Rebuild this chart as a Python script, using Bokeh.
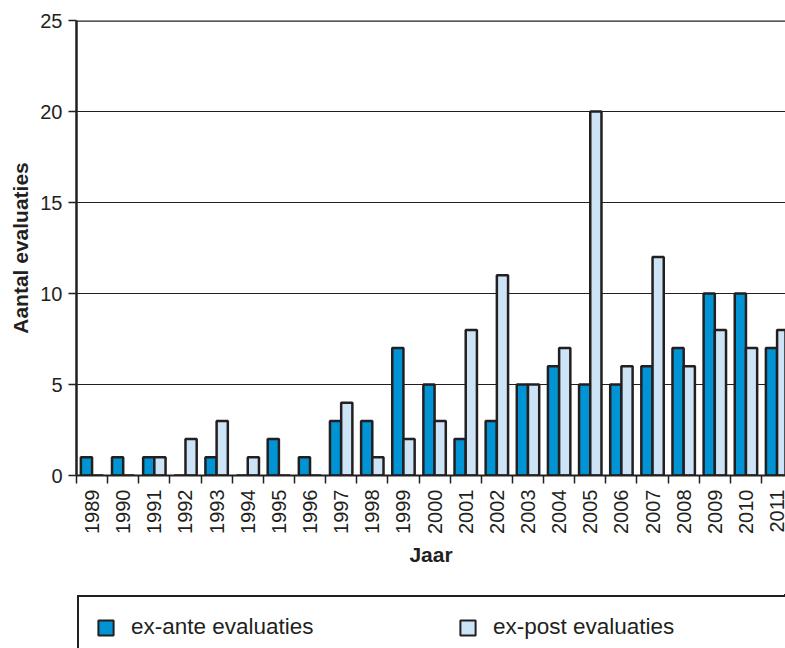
from bokeh.plotting import figure
from bokeh.layouts import column
from bokeh.models import (ColumnDataSource, Range1d, FixedTicker, Legend, LegendItem, Span)
from bokeh.transform import dodge
from bokeh.embed import file_html
from bokeh.resources import INLINE

years = list(range(1989, 2012))
ex_ante = [1, 1, 1, 0, 1, 0, 2, 1, 3, 3, 7, 5, 2, 3, 5, 6, 5, 5, 6, 7, 10, 10, 7]
ex_post = [0, 0, 1, 2, 3, 1, 0, 0, 4, 1, 2, 3, 8, 11, 5, 7, 20, 6, 12, 6, 8, 7, 8]
y_ticks = [0, 5, 10, 15, 20, 25]
series_names = ["ex-ante evaluaties", "ex-post evaluaties"]

FONT = "Liberation Sans"
INK = "#231f20"
BLUE = "#0094d4"
LIGHT = "#cde4f6"

src = ColumnDataSource(dict(year=years, ante=ex_ante, post=ex_post))

p = figure(frame_width=709, frame_height=455, output_backend="svg", toolbar_location=None,
           x_range=Range1d(years[0] - 0.5, years[-1] + 0.27), y_range=Range1d(0, 25),
           min_border_left=76, min_border_top=20, min_border_right=0, min_border_bottom=119)
p.outline_line_color = None
p.background_fill_color = "white"
p.border_fill_color = "white"

bw = 0.36
r1 = p.vbar(x=dodge("year", -bw / 2, range=p.x_range), top="ante", width=bw, source=src,
            fill_color=BLUE, line_color=INK, line_width=2.5)
r2 = p.vbar(x=dodge("year", bw / 2, range=p.x_range), top="post", width=bw, source=src,
            fill_color=LIGHT, line_color=INK, line_width=2.5)

p.add_layout(Span(location=y_ticks[-1], dimension="width", line_color=INK, line_width=2.5))

# x axis
boundaries = [y - 0.5 for y in years]
p.xaxis.ticker = FixedTicker(ticks=years, minor_ticks=boundaries)
p.xaxis.major_label_overrides = {y: str(y) for y in years}
p.xaxis.major_label_orientation = 3.14159265 / 2
p.xaxis.major_tick_out = 0
p.xaxis.major_tick_in = 0
p.xaxis.minor_tick_out = 8
p.xaxis.minor_tick_in = 0
p.xaxis.minor_tick_line_color = INK
p.xaxis.minor_tick_line_width = 1.5
p.xaxis.axis_line_color = INK
p.xaxis.axis_line_width = 2
p.xaxis.axis_label = "Jaar"
p.xaxis.major_label_standoff = 6

# y axis
p.yaxis.ticker = FixedTicker(ticks=y_ticks)
p.yaxis.major_tick_out = 8
p.yaxis.major_tick_in = 0
p.yaxis.minor_tick_line_color = None
p.yaxis.major_tick_line_color = INK
p.yaxis.major_tick_line_width = 1.5
p.yaxis.axis_line_color = INK
p.yaxis.axis_line_width = 2.5
p.yaxis.axis_label = "Aantal evaluaties"
p.yaxis.major_label_standoff = 6

for ax in (p.xaxis[0], p.yaxis[0]):
    ax.major_label_text_font = FONT
    ax.major_label_text_font_size = "20px"
    ax.major_label_text_color = INK
    ax.axis_label_text_font = FONT
    ax.axis_label_text_font_size = "21px"
    ax.axis_label_text_font_style = "bold"
    ax.axis_label_text_color = INK
p.xaxis.axis_label_standoff = 6
p.yaxis.axis_label_standoff = 5

p.xgrid.grid_line_color = None
p.ygrid.ticker = FixedTicker(ticks=y_ticks)
p.ygrid.grid_line_color = INK
p.ygrid.grid_line_width = 1

# legend strip (a second small figure below the chart); its proxy bars lie outside its range
lg = figure(frame_width=709, frame_height=54, output_backend="svg", toolbar_location=None,
            x_range=Range1d(0, 1), y_range=Range1d(0, 1), x_axis_type=None, y_axis_type=None,
            min_border_left=76, min_border_right=0, min_border_top=0, min_border_bottom=0)
lg.outline_line_color = None
lg.grid.visible = False
lg.border_fill_color = "white"
g1 = lg.vbar(x=years, top=ex_ante, width=0.1, fill_color=BLUE, line_color=INK, line_width=2)
g2 = lg.vbar(x=years, top=ex_post, width=0.1, fill_color=LIGHT, line_color=INK, line_width=2)

legend = Legend(items=[LegendItem(label=series_names[0], renderers=[g1]),
                       LegendItem(label=series_names[1], renderers=[g2])],
                orientation="horizontal", location="top_left", margin=1,
                padding=17, spacing=0, glyph_width=19, glyph_height=19, label_standoff=16,
                label_width=327, label_text_font=FONT, label_text_font_size="22.5px",
                label_text_color=INK, border_line_color=INK, border_line_width=2,
                border_line_alpha=1, background_fill_color="white", background_fill_alpha=1)
lg.add_layout(legend, "center")

layout = column(p, lg, spacing=0)
html = file_html(layout, INLINE)
open("out.html", "w").write(html)
